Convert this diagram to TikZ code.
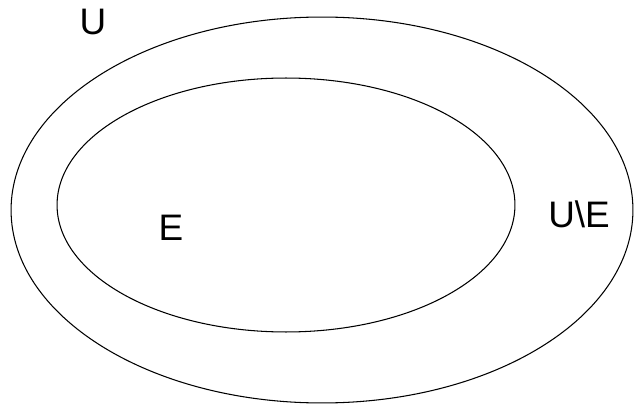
\documentclass[tikz,border=0pt]{standalone}
\usepackage{fontspec}
\setmainfont{Liberation Sans}
\usetikzlibrary{positioning,shapes.geometric}

\begin{document}
\begin{tikzpicture}[x=0.02cm, y=-0.02cm, every node/.style={font=\fontsize{21}{24}\selectfont},
  setline/.style={draw, ellipse, line width=0.6pt, inner sep=0pt}]
  \useasboundingbox (0,0) rectangle (635,405);
  \node[setline, minimum width=12.44cm, minimum height=7.72cm] (universe) at (322,210) {};
  \node[setline, minimum width=9.16cm, minimum height=5.08cm] (subset) at (286,205) {};
  \node (ulabel) at (93,22) {U};
  \node (elabel) at (171,228) {E};
  \node (rest) at (579,214) {U\textbackslash E};
\end{tikzpicture}
\end{document}
